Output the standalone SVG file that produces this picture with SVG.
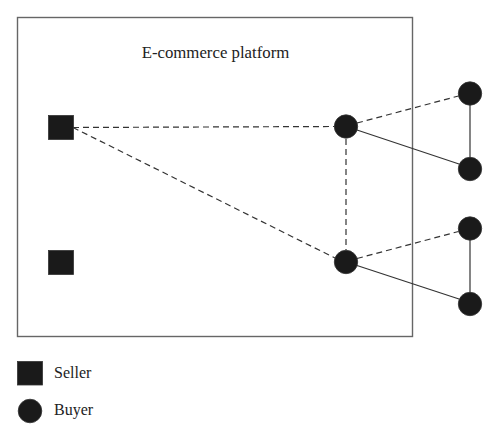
<svg xmlns="http://www.w3.org/2000/svg" width="500" height="441" viewBox="0 0 500 441">
<style>
.lbl{font-family:"Liberation Serif","Times New Roman",serif;font-size:16px;fill:#222}
.seller{fill:#1a1a1a;stroke:#333;stroke-width:0.8}
.buyer{fill:#1a1a1a;stroke:#333;stroke-width:0.8}
.dash{stroke:#333;stroke-width:1.2;stroke-dasharray:6,4;fill:none}
.solid{stroke:#333;stroke-width:1.2;fill:none}
</style>
<rect width="500" height="441" fill="#fff"/>
<g id="platform">
<rect x="17.5" y="17.5" width="395" height="319" fill="none" stroke="#666" stroke-width="1.4"/>
<text class="lbl" x="215.5" y="58" text-anchor="middle" style="font-size:16.8px">E-commerce platform</text>
</g>
<g id="connectors">
<line class="dash" x1="73" y1="127.5" x2="334.5" y2="126.5"/>
<line class="dash" x1="73" y1="127.5" x2="335" y2="258"/>
<line class="dash" x1="346" y1="139" x2="346" y2="250"/>
<line class="dash" x1="357" y1="123" x2="458.5" y2="96"/>
<line class="solid" x1="357" y1="130" x2="459" y2="164"/>
<line class="solid" x1="470" y1="93.5" x2="470" y2="169"/>
<line class="dash" x1="357" y1="258.5" x2="458.5" y2="231.5"/>
<line class="solid" x1="357" y1="265.5" x2="459" y2="299"/>
<line class="solid" x1="470" y1="228.5" x2="470" y2="304"/>
</g>
<g id="seller1"><rect class="seller" x="48.5" y="115.5" width="25" height="24"/></g>
<g id="seller2"><rect class="seller" x="48.5" y="250.5" width="25" height="24"/></g>
<g id="buyer1"><circle class="buyer" cx="346" cy="126.5" r="11.7"/></g>
<g id="buyer2"><circle class="buyer" cx="346" cy="262" r="11.7"/></g>
<g id="buyer3"><circle class="buyer" cx="470" cy="93.5" r="11.7"/></g>
<g id="buyer4"><circle class="buyer" cx="470" cy="169" r="11.7"/></g>
<g id="buyer5"><circle class="buyer" cx="470" cy="228.5" r="11.7"/></g>
<g id="buyer6"><circle class="buyer" cx="470" cy="304" r="11.7"/></g>
<g id="legend">
<rect class="seller" x="17.5" y="361.5" width="25" height="23.5"/>
<text class="lbl" x="54" y="378">Seller</text>
<circle class="buyer" cx="30" cy="411" r="11.8"/>
<text class="lbl" x="54" y="415">Buyer</text>
</g>
</svg>
